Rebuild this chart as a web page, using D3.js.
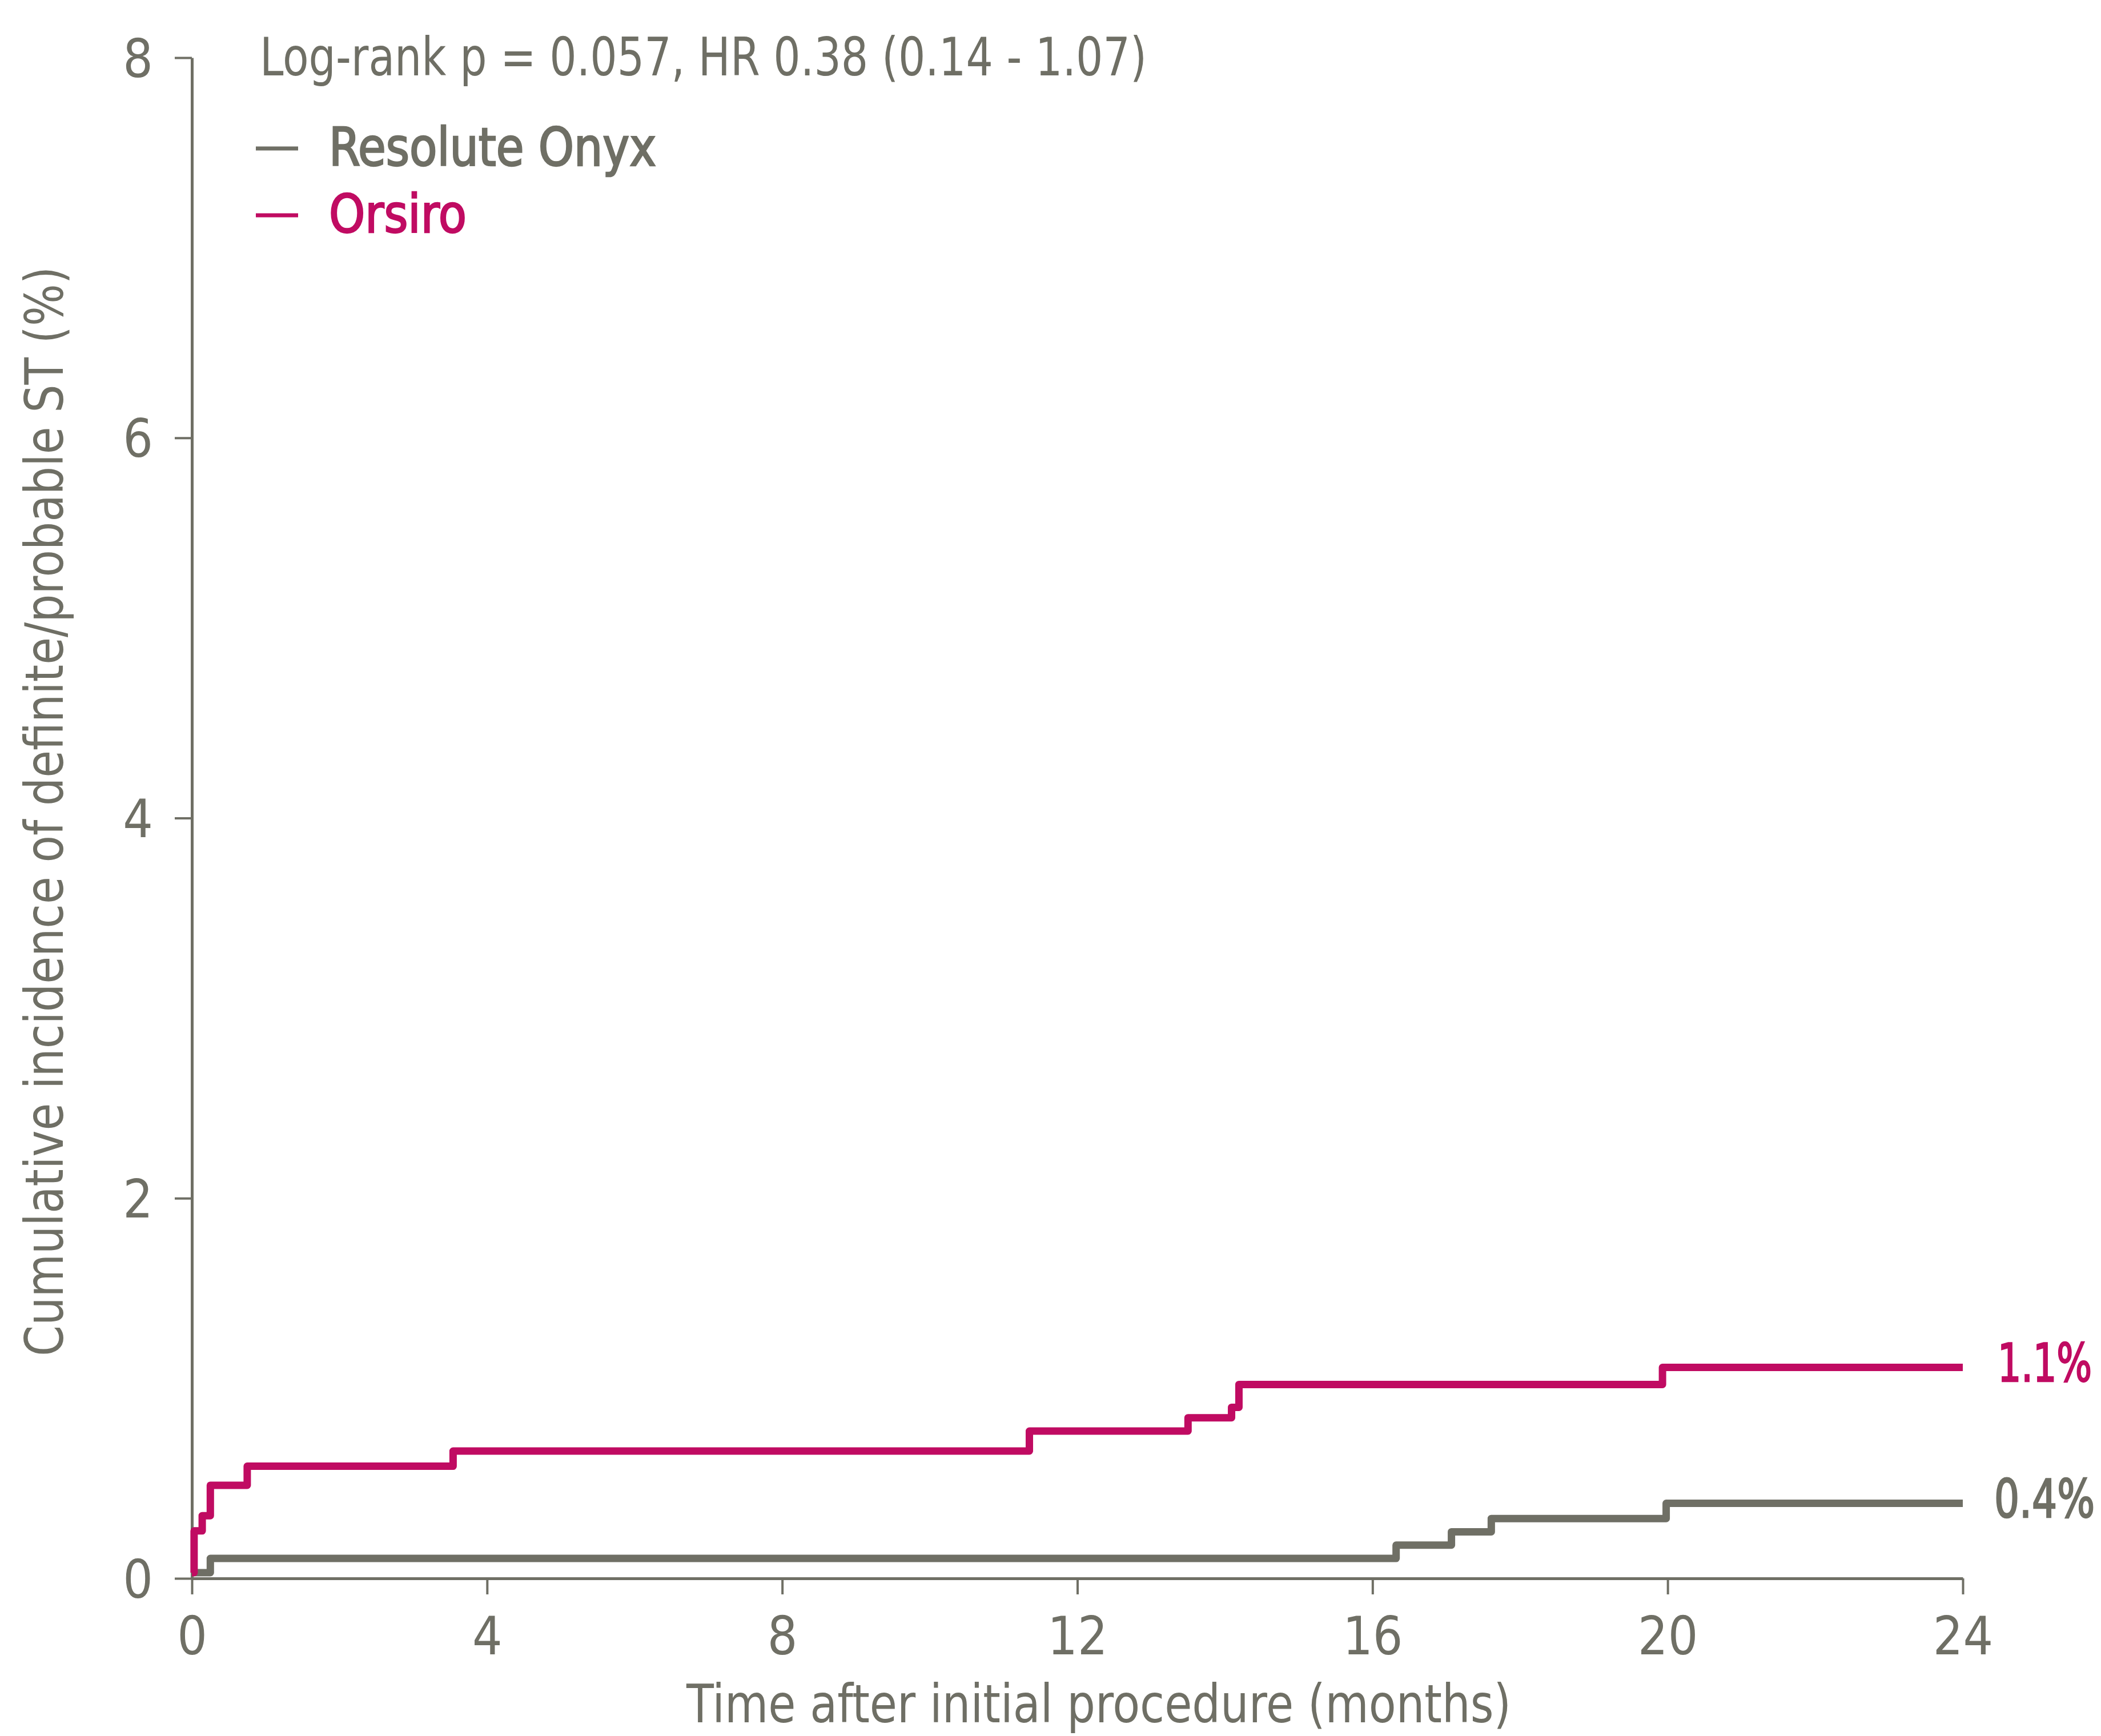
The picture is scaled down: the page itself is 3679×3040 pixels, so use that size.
<!DOCTYPE html>
<html lang="en">
<meta charset="utf-8"/>
<head>
<style>
  body { margin: 0; background: #fff; }
  text { font-family: "DejaVu Sans Condensed", "Liberation Sans Narrow", sans-serif; fill: #6f6f65; }
</style>
</head>
<body>
<svg id="container" width="3679" height="3040"></svg>

<script src="https://d3js.org/d3.v7.min.js"></script>
<script>
// step curves (months, cumulative incidence %)
let onyxTime = [0, 0.25, 16.32, 17.07, 17.61, 19.98, 24]
let onyxInc  = [0.03, 0.105, 0.175, 0.245, 0.315, 0.395, 0.395]

let orsiroTime = [0, 0.03, 0.14, 0.25, 0.75, 3.54, 11.35, 13.5, 14.09, 14.19, 19.93, 24]
let orsiroInc  = [0.03, 0.25, 0.33, 0.49, 0.59, 0.67, 0.775, 0.845, 0.90, 1.02, 1.11, 1.11]

let xTicks = [0, 4, 8, 12, 16, 20, 24]
let yTicks = [0, 2, 4, 6, 8]

let seriesNames = ["Resolute Onyx", "Orsiro"]
let seriesColors = ["#6f6f65", "#c00b62"]
let endLabels = ["0.4%", "1.1%"]
let statText = "Log-rank p = 0.057, HR 0.38 (0.14 - 1.07)"

let gray = "#6f6f65"
let svg = d3.select("svg")

let x = d3.scaleLinear().domain([0, 24]).range([336, 3437])
let y = d3.scaleLinear().domain([0, 8]).range([2764, 101])

// axes
let xAxis = svg.append("g")
    .attr("transform", "translate(0," + y(0) + ")")
    .call(d3.axisBottom(x).tickValues(xTicks).tickSize(28).tickSizeOuter(0).tickPadding(40))
let yAxis = svg.append("g")
    .attr("transform", "translate(" + x(0) + ",0)")
    .call(d3.axisLeft(y).tickValues(yTicks).tickSize(30).tickSizeOuter(0).tickPadding(38))

xAxis.select(".domain").attr("stroke", gray).attr("stroke-width", 5)
yAxis.select(".domain").attr("stroke", gray).attr("stroke-width", 5)
svg.selectAll(".tick line").attr("stroke", gray).attr("stroke-width", 4)
svg.selectAll(".tick text").attr("font-size", 92).attr("fill", gray)
  .attr("font-family", "DejaVu Sans Condensed, Liberation Sans Narrow, sans-serif")
yAxis.selectAll(".tick text").attr("dy", "0.36em")

// axis titles (squeezed to the condensed width of the original face)
svg.append("text")
   .attr("x", 1202).attr("y", 3016)
   .attr("font-size", 92)
   .attr("textLength", 1444)
   .attr("lengthAdjust", "spacingAndGlyphs")
   .text("Time after initial procedure (months)")

svg.append("text")
   .attr("transform", "translate(110,2375) rotate(-90)")
   .attr("font-size", 92)
   .attr("textLength", 1908)
   .attr("lengthAdjust", "spacingAndGlyphs")
   .text("Cumulative incidence of definite/probable ST (%)")

// curves
let line = d3.line()
    .x(d => x(d[0]))
    .y(d => y(d[1]))
    .curve(d3.curveStepAfter)

let curves = [d3.zip(onyxTime, onyxInc), d3.zip(orsiroTime, orsiroInc)]

svg.append("g").selectAll("path")
   .data(curves)
   .enter()
   .append("path")
   .attr("d", line)
   .attr("fill", "none")
   .attr("stroke", (d, i) => seriesColors[i])
   .attr("stroke-width", 13)
   .attr("stroke-linejoin", "round")

// end labels
svg.selectAll(null)
   .data(curves)
   .enter()
   .append("text")
   .attr("x", (d, i) => x(24) + (i ? 61 : 55))
   .attr("y", d => y(d[d.length - 1][1]) + 24)
   .attr("font-size", 92)
   .attr("textLength", (d, i) => i ? 165 : 176)
   .attr("lengthAdjust", "spacingAndGlyphs")
   .style("fill", (d, i) => seriesColors[i])
   .style("stroke", (d, i) => seriesColors[i])
   .style("stroke-width", 2.5)
   .text((d, i) => endLabels[i])

// stats + legend
svg.append("text")
   .attr("x", 455).attr("y", 132)
   .attr("font-size", 92)
   .attr("textLength", 1553)
   .attr("lengthAdjust", "spacingAndGlyphs")
   .text(statText)

let legendWidths = [573, 241]
let legend = svg.append("g")
legend.selectAll("line")
   .data(seriesNames)
   .enter()
   .append("line")
   .attr("x1", 448).attr("x2", 522)
   .attr("y1", (d, i) => 260 + i * 117)
   .attr("y2", (d, i) => 260 + i * 117)
   .attr("stroke", (d, i) => seriesColors[i])
   .attr("stroke-width", 7)

legend.selectAll("text")
   .data(seriesNames)
   .enter()
   .append("text")
   .attr("x", 576)
   .attr("y", (d, i) => 290 + i * 117)
   .attr("font-size", 92)
   .attr("textLength", (d, i) => legendWidths[i])
   .attr("lengthAdjust", "spacingAndGlyphs")
   .style("fill", (d, i) => seriesColors[i])
   .style("stroke", (d, i) => seriesColors[i])
   .style("stroke-width", 2.5)
   .text(d => d)
</script>
</body>
</html>
